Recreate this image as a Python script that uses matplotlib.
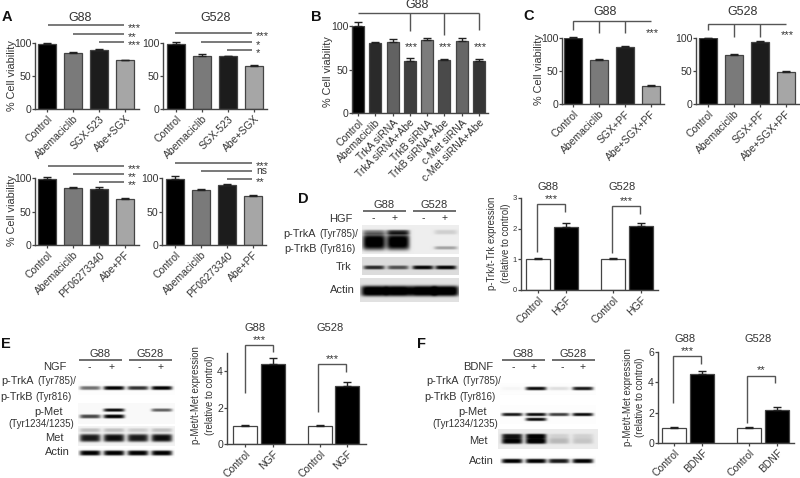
import numpy as np
import matplotlib
matplotlib.use("Agg")
import matplotlib.pyplot as plt

plt.rcParams['font.family'] = ['Liberation Sans', 'DejaVu Sans']

W, H = 800, 478
INK = '#333333'
LINE = '#444444'

# ---------- data ----------
labels_a1 = ['Control', 'Abemaciclib', 'SGX-523', 'Abe+SGX']
labels_a2 = ['Control', 'Abemaciclib', 'PF06273340', 'Abe+PF']
labels_b = ['Control', 'Abemaciclib', 'TrkA siRNA', 'TrkA siRNA+Abe', 'TrkB siRNA',
            'TrkB siRNA+Abe', 'c-Met siRNA', 'c-Met siRNA+Abe']
labels_c = ['Control', 'Abemaciclib', 'SGX+PF', 'Abe+SGX+PF']
labels_d = ['Control', 'HGF', 'Control', 'HGF']
labels_e = ['Control', 'NGF', 'Control', 'NGF']
labels_f = ['Control', 'BDNF', 'Control', 'BDNF']

a_tl = [99, 85, 89.5, 74]
a_tl_err = [1.5, 0.7, 0.8, 1]
a_tr = [98, 81, 80, 65]
a_tr_err = [4, 2, 0.5, 2]
a_bl = [99, 85, 84, 68]
a_bl_err = [2, 1, 2, 1.5]
a_br = [99, 82, 90, 73]
a_br_err = [4, 2, 1, 2]
b_g88 = [100, 80, 82, 60, 84, 61, 83, 60]
b_g88_err = [5, 2, 2.5, 3, 2.5, 1, 3, 1.5]
c_g88 = [100, 67, 87, 28]
c_g88_err = [1, 1.5, 0.5, 1]
c_g528 = [100, 74, 94, 49]
c_g528_err = [0.7, 1.5, 1, 0.7]
d_vals = [1, 2.07, 1, 2.08]
d_err = [0.05, 0.1, 0.03, 0.12]
e_vals = [1, 4.4, 1, 3.2]
e_err = [0.05, 0.3, 0.02, 0.18]
f_vals = [1, 4.55, 1, 2.2]
f_err = [0.03, 0.22, 0.05, 0.17]

# band darkness per lane (blots)
d_ptrk_main = [1.0, 1.0, 0, 0]
d_ptrk_up = [0.4, 0.7, 0, 0.12]
d_ptrk_low = [0, 0, 0, 0.3]
d_trk = [0.7, 0.55, 0.85, 0.85]
d_actin = [1.0, 1.0, 1.0, 1.0]
e_ptrk = [0.55, 1.0, 0.8, 1.0]
e_pmet_up = [0, 0.95, 0, 0.6]
e_pmet_low = [0.7, 1.0, 0, 0]
e_met = [0.85, 0.9, 0.85, 0.9]
e_met_up = [0.2, 0.2, 0.15, 0.2]
e_actin = [1.0, 1.0, 1.0, 1.0]
f_ptrk = [0.03, 0.95, 0.12, 0.9]
f_pmet_up = [0.9, 0.95, 0.75, 0.95]
f_pmet_low = [0, 0.95, 0, 0]
f_met = [0.95, 1.0, 0.2, 0.15]
f_met_up = [0.85, 0.95, 0.1, 0.1]
f_actin = [1.0, 1.0, 0.9, 1.0]

GRAYS4 = ['#000000', '#7a7a7a', '#1c1c1c', '#a6a6a6']
GRAYS8 = ['#000000', '#2a2a2a', '#626262', '#3e3e3e', '#7c7c7c', '#4a4a4a', '#666666', '#363636']
PAIR = ['white', 'black', 'white', 'black']

fig = plt.figure(figsize=(W / 100, H / 100), dpi=100, facecolor='white')


def px_axes(x0, x1, ytop, ybase, zorder=1):
    ax = fig.add_axes([x0 / W, 1 - ybase / H, (x1 - x0) / W, (ybase - ytop) / H], zorder=zorder)
    ax.patch.set_alpha(0)
    return ax


def bars(x_axis, x_end, ytop, ybase, centers, vals, errs, labels, colors, yticks, width,
         tick_size=7.6, label_size=7.5, ymax=None):
    ax = px_axes(x_axis, x_end, ytop, ybase)
    c0 = centers[0]
    sp = centers[1] - centers[0]
    pos = [(c - c0) / sp for c in centers]
    ax.set_xlim((x_axis - c0) / sp, (x_end - c0) / sp)
    ax.set_ylim(0, ymax if ymax else yticks[-1])
    for p, v, e, col in zip(pos, vals, errs, colors):
        ax.bar(p, v, width=width / sp, color=col, edgecolor=LINE, linewidth=0.9, zorder=2)
        ax.errorbar(p, v, yerr=[[0], [e]], color='#222222', capsize=3, elinewidth=1,
                    capthick=1, clip_on=False, zorder=3)
    for s in ('top', 'right'):
        ax.spines[s].set_visible(False)
    for s in ('left', 'bottom'):
        ax.spines[s].set_color(LINE)
        ax.spines[s].set_linewidth(1.0)
    ax.set_yticks(yticks)
    ax.set_xticks(pos)
    ax.set_xticklabels(labels, rotation=45, ha='right', rotation_mode='anchor',
                       fontsize=label_size, color=INK)
    ax.tick_params(axis='y', length=2.5, width=0.9, color=LINE, labelsize=tick_size,
                   labelcolor=INK, pad=0.3)
    ax.tick_params(axis='x', length=2.5, width=0.9, color=LINE, pad=1)
    return ax


# Panel A
bars(35, 139, 43, 109, [47, 73, 99, 125], a_tl, a_tl_err, labels_a1, GRAYS4, [0, 50, 100], 18)
bars(163, 267, 43, 109, [176, 202, 228, 254], a_tr, a_tr_err, labels_a1, GRAYS4, [0, 50, 100], 18)
bars(35, 139, 178, 245, [47, 73, 99, 125], a_bl, a_bl_err, labels_a2, GRAYS4, [0, 50, 100], 18)
bars(162, 266, 178, 245, [175, 201, 227, 253], a_br, a_br_err, labels_a2, GRAYS4, [0, 50, 100], 18)
# Panel B
bars(352, 488, 26, 113, [358, 375.2, 392.5, 409.7, 427, 444.2, 461.5, 478.7], b_g88, b_g88_err,
     labels_b, GRAYS8, [0, 50, 100], 12)
# Panel C
bars(562, 664, 38, 104, [573, 599, 625, 651], c_g88, c_g88_err, labels_c, GRAYS4, [0, 50, 100], 18)
bars(696, 800, 38, 104, [708, 734, 760, 786], c_g528, c_g528_err, labels_c, GRAYS4, [0, 50, 100], 18)
# Panels D-F bars
bars(521, 658, 198, 290, [538, 566, 613, 641], d_vals, d_err, labels_d, PAIR, [0, 1, 2, 3], 24,
     tick_size=5.5)
bars(227, 366, 353, 444, [245, 273, 320, 347], e_vals, e_err, labels_e, PAIR, [0, 2, 4], 24, ymax=5)
bars(658, 794, 352, 443, [674, 702, 749, 777], f_vals, f_err, labels_f, PAIR, [0, 2, 4, 6], 24)


def blot(x0, x1, y0, y1, lanes, bands, bg=0.93, half=10.5):
    """bands: list of (y_px, thickness_px, darkness per lane)."""
    ax = px_axes(x0, x1, y0, y1, zorder=0)
    xs = np.linspace(x0, x1, int((x1 - x0) * 2))
    ys = np.linspace(y0, y1, int((y1 - y0) * 2))
    img = np.zeros((len(ys), len(xs)))
    for yb, th, dark in bands:
        for c, d in zip(lanes, dark):
            prof_x = np.exp(-((xs - c) / half) ** 6)
            prof_y = np.exp(-((ys - yb) / (th / 1.5)) ** 4)
            img += d * np.outer(prof_y, prof_x)
    img = np.clip(bg - img, 0, 1)
    ax.imshow(img, cmap='gray', vmin=0, vmax=1, aspect='auto', interpolation='bilinear',
              extent=(x0, x1, y1, y0))
    ax.axis('off')


lanes_d = [374, 398, 423, 446]
blot(362, 459, 225, 254, lanes_d, [(242, 12, d_ptrk_main), (232, 3.5, d_ptrk_up), (248, 2.5, d_ptrk_low)],
     half=11.5)
blot(362, 459, 257, 275, lanes_d, [(267.5, 3, d_trk)], bg=0.86)
blot(360, 459, 278, 302, lanes_d, [(291, 8, d_actin)], bg=0.88, half=13)

lanes_e = [90, 114, 138, 162]
blot(78, 175, 381, 395, lanes_e, [(388, 3, e_ptrk)], bg=0.99)
blot(78, 175, 403, 424, lanes_e, [(410, 2.5, e_pmet_up), (416.5, 3, e_pmet_low)], bg=0.98)
blot(78, 175, 426, 446, lanes_e, [(438, 6, e_met), (430, 3, e_met_up)], bg=0.95)
blot(78, 175, 448, 458, lanes_e, [(453, 4, e_actin)], bg=0.99)

lanes_f = [512, 536, 559, 583]
blot(500, 596, 383, 395, lanes_f, [(389, 2.5, f_ptrk)], bg=0.99)
blot(500, 596, 405, 424, lanes_f, [(414.5, 2.5, f_pmet_up), (419.5, 2.5, f_pmet_low)], bg=0.99)
blot(498, 598, 429, 449, lanes_f, [(441, 4.5, f_met), (436, 3.5, f_met_up)], bg=0.92)
blot(500, 596, 456, 467, lanes_f, [(461, 3.5, f_actin)], bg=0.99)

# overlay in reference pixels for annotations
ov = fig.add_axes([0, 0, 1, 1], zorder=5)
ov.set_xlim(0, W)
ov.set_ylim(H, 0)
ov.axis('off')
ov.patch.set_alpha(0)


def T(x, y, s, size=7.5, ha='center', rot=0, weight='normal', color=INK, ls=1.15):
    ov.text(x, y, s, fontsize=size, ha=ha, va='center', rotation=rot, fontweight=weight,
            color=color, rotation_mode='anchor', linespacing=ls)


def L(xs, ys, lw=1.0):
    ov.plot(xs, ys, color='#555555', lw=lw, solid_capstyle='butt', solid_joinstyle='miter')


def stars(x, y, s, ha='center'):
    T(x, y + 2, s, size=8, ha=ha, color='#333333')


def sig(x0, x1, y, s):
    L([x0, x1], [y, y], lw=1.1)
    if s == 'ns':
        T(x1 + 4, y, s, size=7.5, ha='left')
    else:
        stars(x1 + 4, y + 1, s, ha='left')


# panel letters
for x, y, s in [(2, 17, 'A'), (311, 17, 'B'), (523, 16, 'C'), (298, 199, 'D'), (1, 344, 'E'), (417, 344, 'F')]:
    T(x, y, s, size=10.5, ha='left', weight='bold', color='#111111')

# titles
for x, y, s in [(80, 18, 'G88'), (216, 18, 'G528'), (417, 5, 'G88'), (605, 12, 'G88'), (743, 12, 'G528')]:
    T(x, y, s, size=9)
for x, y, s in [(548, 187, 'G88'), (622, 187, 'G528'), (255, 328, 'G88'), (330, 328, 'G528'),
                (685, 339, 'G88'), (758, 339, 'G528')]:
    T(x, y, s, size=8)

# y labels
for x, y in [(12, 76), (12, 211), (328, 72), (539, 70)]:
    T(x, y, '% Cell viability', size=7.8, rot=90)
T(499, 243, 'p-Trk/t-Trk expression\n(relative to control)', size=6.9, rot=90, ls=1.4)
T(203, 395, 'p-Met/t-Met expression\n(relative to control)', size=6.9, rot=90, ls=1.4)
T(634, 397, 'p-Met/t-Met expression\n(relative to control)', size=6.9, rot=90, ls=1.35)

# Panel A significance
sig(48, 124, 25, '***'); sig(73, 124, 34, '**'); sig(99, 124, 42, '***')
sig(175, 252, 33, '***'); sig(201, 252, 42, '*'); sig(227, 252, 50, '*')
sig(48, 124, 166, '***'); sig(73, 124, 174, '**'); sig(99, 124, 182, '**')
sig(175, 252, 163, '***'); sig(201, 252, 171, 'ns'); sig(227, 252, 179, '**')

# Panel B bracket
L([358, 479], [13, 13])
for x, yb in [(410, 31), (444, 35), (479, 30)]:
    L([x, x], [13, yb])
    stars(x + 1, 45, '***')

# Panel C brackets
L([573, 573, 651], [30, 21, 21])
L([599, 599], [21, 33]); L([625, 625], [21, 33])
stars(652, 31, '***')
L([708, 708, 786], [30, 24, 24])
L([734, 734], [24, 37]); L([760, 760], [24, 37])
stars(787, 33, '***')


def bracket(x0, x1, top, yl, yr, s, sy):
    L([x0, x0, x1, x1], [yl, top, top, yr])
    stars((x0 + x1) / 2, sy, s)


bracket(537, 565, 204, 252, 212, '***', 197)
bracket(612, 640, 206, 253, 214, '***', 199)
bracket(245, 273, 345, 393, 352, '***', 338)
bracket(318, 346, 364, 412, 372, '***', 357)
bracket(673, 701, 356, 403, 364, '***', 349)
bracket(747, 775, 376, 423, 383, '**', 368)


def blot_head(x1a, x1b, x2a, x2b, yl, yt, marks_x, marks_y, treat, treat_x, treat_y):
    L([x1a, x1b], [yl, yl], lw=1.2)
    L([x2a, x2b], [yl, yl], lw=1.2)
    T((x1a + x1b) / 2, yt, 'G88', size=8)
    T((x2a + x2b) / 2, yt, 'G528', size=8)
    T(treat_x, treat_y, treat, size=8, ha='right')
    for x, s in zip(marks_x, ['-', '+', '-', '+']):
        T(x, marks_y, s, size=7.5)


def phospho(xa, ya, xb, yb):
    T(xa - 42, ya, 'p-TrkA', size=7.8, ha='right')
    T(xa, ya, '(Tyr785)/', size=7, ha='right')
    T(xb - 39, yb, 'p-TrkB', size=7.8, ha='right')
    T(xb, yb, '(Tyr816)', size=7, ha='right')


# Panel D annotations
blot_head(363, 406, 413, 456, 211, 205, [373, 395, 423, 445], 218, 'HGF', 352, 219)
phospho(358, 234, 356, 249)
T(352, 267, 'Trk', size=8, ha='right')
T(355, 290, 'Actin', size=8, ha='right')

# Panel E annotations
blot_head(79, 122, 129, 172, 360, 354, [89, 112, 139, 161], 367, 'NGF', 66, 367)
phospho(76, 381, 72, 397)
T(63, 412, 'p-Met', size=8, ha='right')
T(74, 424, '(Tyr1234/1235)', size=7, ha='right')
T(64, 438, 'Met', size=8, ha='right')
T(70, 452, 'Actin', size=8, ha='right')

# Panel F annotations
blot_head(502, 545, 552, 595, 360, 354, [513, 534, 562, 583], 367, 'BDNF', 493, 367)
phospho(501, 381, 496, 397)
T(487, 412, 'p-Met', size=8, ha='right')
T(498, 424, '(Tyr1234/1235)', size=7, ha='right')
T(488, 441, 'Met', size=8, ha='right')
T(494, 461, 'Actin', size=8, ha='right')

fig.savefig('out.png', dpi=100, facecolor='white')
